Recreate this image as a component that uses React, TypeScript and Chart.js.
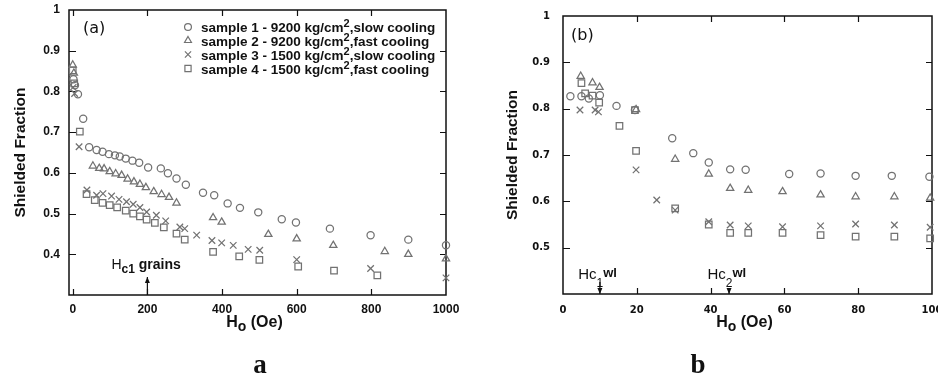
import React, { useEffect, useRef } from "react";
import { Chart, registerables } from "chart.js";
Chart.register(...registerables);

// ---------- Labels ----------
const seriesLabels = [
  "sample 1 - 9200 kg/cm²,slow cooling",
  "sample 2 - 9200 kg/cm²,fast cooling",
  "sample 3 - 1500 kg/cm²,slow cooling",
  "sample 4 - 1500 kg/cm²,fast cooling",
];
const pointStyles = ["circle", "triangle", "crossRot", "rect"];
const pointRadii = [3.6, 4.2, 4.6, 4.6];

// ---------- Tick values ----------
const aXTicks = [0, 200, 400, 600, 800, 1000];
const aYTicks = [0.4, 0.5, 0.6, 0.7, 0.8, 0.9, 1];
const bXTicks = [0, 20, 40, 60, 80, 100];
const bYTicks = [0.5, 0.6, 0.7, 0.8, 0.9, 1];

// ---------- Panel (a) data: H0 (Oe) vs shielded fraction ----------
const a1X = [2, 6, 14, 28, 44, 64, 80, 97, 113, 126, 142, 160, 178, 202, 236, 255, 278, 303, 349, 379, 415, 448, 497, 560, 598, 689, 798, 899, 1000];
const a1Y = [0.83, 0.815, 0.793, 0.733, 0.663, 0.656, 0.652, 0.646, 0.643, 0.64, 0.635, 0.63, 0.625, 0.613, 0.611, 0.599, 0.586, 0.571, 0.551, 0.545, 0.525, 0.514, 0.503, 0.486, 0.478, 0.463, 0.447, 0.436, 0.422];

const a2X = [0, 3, 54, 71, 84, 99, 115, 131, 147, 164, 180, 196, 217, 238, 258, 278, 376, 399, 524, 600, 698, 836, 899, 1000];
const a2Y = [0.865, 0.845, 0.617, 0.611, 0.61, 0.603, 0.598, 0.594, 0.585, 0.578, 0.572, 0.564, 0.554, 0.547, 0.54, 0.526, 0.49, 0.479, 0.449, 0.438, 0.422, 0.407, 0.4, 0.389];

const a3X = [1, 5, 17, 38, 64, 81, 104, 124, 144, 162, 180, 198, 224, 249, 287, 300, 332, 373, 399, 430, 470, 501, 600, 798, 1000];
const a3Y = [0.81, 0.795, 0.664, 0.558, 0.545, 0.549, 0.543, 0.535, 0.529, 0.523, 0.515, 0.504, 0.496, 0.482, 0.467, 0.463, 0.447, 0.434, 0.428, 0.422, 0.412, 0.41, 0.387, 0.365, 0.342];

const a4X = [0, 4, 19, 37, 59, 80, 99, 119, 142, 162, 180, 198, 220, 244, 278, 300, 376, 446, 500, 604, 700, 816];
const a4Y = [0.852, 0.82, 0.701, 0.548, 0.533, 0.526, 0.521, 0.515, 0.507, 0.5, 0.493, 0.485, 0.477, 0.466, 0.451, 0.436, 0.406, 0.395, 0.386, 0.37, 0.36, 0.348];

// ---------- Panel (b) data ----------
const b1X = [2, 5, 7, 10, 14.5, 19.5, 29.6, 35.3, 39.5, 45.3, 49.5, 61.3, 69.8, 79.3, 89.1, 99.3];
const b1Y = [0.827, 0.827, 0.822, 0.829, 0.806, 0.797, 0.736, 0.704, 0.684, 0.669, 0.668, 0.659, 0.66, 0.655, 0.655, 0.653];

const b2X = [4.8, 8, 9.9, 19.8, 30.4, 39.5, 45.3, 50.2, 59.5, 69.8, 79.3, 89.8, 99.5];
const b2Y = [0.87, 0.856, 0.846, 0.798, 0.691, 0.659, 0.628, 0.624, 0.621, 0.614, 0.61, 0.61, 0.607];

const b3X = [4.6, 8.7, 9.6, 19.8, 25.4, 30.4, 39.5, 45.3, 50.2, 59.5, 69.8, 79.3, 89.8, 99.5];
const b3Y = [0.797, 0.797, 0.793, 0.668, 0.603, 0.581, 0.556, 0.549, 0.547, 0.545, 0.547, 0.551, 0.549, 0.544];

const b4X = [5, 6, 8, 9.8, 15.3, 19.5, 19.8, 30.4, 39.5, 45.3, 50.2, 59.5, 69.8, 79.3, 89.8, 99.5];
const b4Y = [0.855, 0.833, 0.828, 0.813, 0.763, 0.797, 0.709, 0.585, 0.55, 0.532, 0.532, 0.532, 0.527, 0.524, 0.524, 0.52];

const MARK = "#727272";
const SANS = "'Liberation Sans', Arial, sans-serif";

function pairs(xs: number[], ys: number[]) {
  return xs.map((x, i) => ({ x, y: ys[i] }));
}

function makeDatasets(series: [number[], number[]][]) {
  return series.map(([xs, ys], i) => ({
    label: seriesLabels[i],
    data: pairs(xs, ys),
    pointStyle: pointStyles[i],
    pointRadius: pointRadii[i],
    pointHoverRadius: pointRadii[i],
    borderColor: MARK,
    backgroundColor: "rgba(0,0,0,0)",
    pointBorderWidth: 1.25,
    showLine: false,
    clip: 8,
  }));
}

// legend marker, same geometry as Chart.js point styles
function legendMarker(ctx: CanvasRenderingContext2D, style: string, r: number, x: number, y: number) {
  ctx.save();
  ctx.strokeStyle = MARK;
  ctx.lineWidth = 1.2;
  ctx.beginPath();
  if (style === "circle") {
    ctx.arc(x, y, r, 0, Math.PI * 2);
  } else if (style === "triangle") {
    for (let k = 0; k < 3; k++) {
      const a = -Math.PI / 2 + (k * 2 * Math.PI) / 3;
      const px = x + Math.cos(a) * r;
      const py = y + Math.sin(a) * r;
      if (k === 0) ctx.moveTo(px, py);
      else ctx.lineTo(px, py);
    }
    ctx.closePath();
  } else if (style === "crossRot") {
    const d = r * Math.SQRT1_2;
    ctx.moveTo(x - d, y - d);
    ctx.lineTo(x + d, y + d);
    ctx.moveTo(x + d, y - d);
    ctx.lineTo(x - d, y + d);
  } else {
    const s = r * Math.SQRT1_2;
    ctx.rect(x - s, y - s, 2 * s, 2 * s);
  }
  ctx.stroke();
  ctx.restore();
}

type Txt = { t: string; font: string; dy?: number };
function drawRun(ctx: CanvasRenderingContext2D, x: number, y: number, parts: Txt[]) {
  let cx = x;
  for (const p of parts) {
    ctx.font = p.font;
    ctx.fillText(p.t, cx, y + (p.dy || 0));
    cx += ctx.measureText(p.t).width;
  }
  return cx;
}
function runWidth(ctx: CanvasRenderingContext2D, parts: Txt[]) {
  let w = 0;
  for (const p of parts) {
    ctx.font = p.font;
    w += ctx.measureText(p.t).width;
  }
  return w;
}

function arrow(ctx: CanvasRenderingContext2D, x: number, yTail: number, yHead: number) {
  ctx.beginPath();
  ctx.moveTo(x, yTail);
  ctx.lineTo(x, yHead);
  ctx.stroke();
  const dir = yHead > yTail ? -1 : 1;
  ctx.beginPath();
  ctx.moveTo(x, yHead);
  ctx.lineTo(x - 2.5, yHead + dir * 6);
  ctx.lineTo(x + 2.5, yHead + dir * 6);
  ctx.closePath();
  ctx.fill();
}

type PanelSpec = {
  panel: "a" | "b";
  xTicks: number[];
  yTicks: number[];
  xMin: number;
  xMax: number;
  yMin: number;
  yMax: number;
  series: [number[], number[]][];
  yAxisWidth: number;
  padding: { left: number; right: number; top: number; bottom: number };
  tickFont: { family: string; size: number; weight: string };
  yTickPad: number;
  xTickPad: number;
  yTitlePad: number;
  tickLen: number;
};

function buildConfig(spec: PanelSpec) {
  const decor = {
    id: "decor" + spec.panel,
    beforeDatasetsDraw(chart: any) {
      const { ctx, chartArea } = chart;
      const { left, right, top, bottom } = chartArea;
      const xs = chart.scales.x;
      const ys = chart.scales.y;
      ctx.save();
      ctx.strokeStyle = "#111";
      ctx.lineWidth = 1.5;
      ctx.strokeRect(left, top, right - left, bottom - top);
      ctx.lineWidth = 1.2;
      const L = spec.tickLen;
      ctx.beginPath();
      spec.xTicks.forEach((v) => {
        const px = Math.round(xs.getPixelForValue(v)) + 0.5;
        if (px <= left + 2 || px >= right - 2) return;
        ctx.moveTo(px, bottom);
        ctx.lineTo(px, bottom - L);
        ctx.moveTo(px, top);
        ctx.lineTo(px, top + L);
      });
      spec.yTicks.forEach((v) => {
        const py = Math.round(ys.getPixelForValue(v)) + 0.5;
        if (py <= top + 2 || py >= bottom - 2) return;
        ctx.moveTo(left, py);
        ctx.lineTo(left + L + 1, py);
        ctx.moveTo(right, py);
        ctx.lineTo(right - L, py);
      });
      ctx.stroke();
      ctx.restore();
    },
    afterDraw(chart: any) {
      const { ctx, chartArea } = chart;
      const { left, right, bottom } = chartArea;
      const xs = chart.scales.x;
      ctx.save();
      ctx.fillStyle = "#111";
      ctx.strokeStyle = "#111";
      ctx.lineWidth = 1.2;
      ctx.textBaseline = "alphabetic";
      ctx.textAlign = "left";
      const cx = (left + right) / 2;

      // x axis title: H_o (Oe)
      const title: Txt[] = [
        { t: "H", font: `bold 16px ${SANS}` },
        { t: "o", font: `bold 14px ${SANS}`, dy: 4 },
        { t: " (Oe)", font: `bold 16px ${SANS}` },
      ];
      const tw = runWidth(ctx, title);
      drawRun(ctx, cx - tw / 2 - 3, 327, title);

      // panel tag
      ctx.font = `16px 'DejaVu Sans', sans-serif`;
      if (spec.panel === "a") ctx.fillText("(a)", 83, 33);
      else ctx.fillText("(b)", 101, 40);

      // big letter below
      ctx.font = `bold 27px 'Liberation Serif', 'Times New Roman', serif`;
      ctx.textAlign = "center";
      ctx.fillText(spec.panel, spec.panel === "a" ? 260 : 228, 373);
      ctx.textAlign = "left";

      if (spec.panel === "a") {
        // legend (superscript 2 drawn raised)
        const ds = chart.data.datasets;
        const rows = [27, 40.5, 54.5, 68.5];
        const LF = `bold 13.5px ${SANS}`;
        ds.forEach((d: any, i: number) => {
          legendMarker(ctx, d.pointStyle, d.pointRadius * 0.95, 188, rows[i]);
          ctx.fillStyle = "#111";
          const [pre, post] = String(d.label).split("²");
          drawRun(ctx, 201, rows[i] + 5, [
            { t: pre, font: LF },
            { t: "2", font: `bold 11px ${SANS}`, dy: -5 },
            { t: post, font: LF },
          ]);
        });
        // H_c1 grains annotation
        const ax = xs.getPixelForValue(200);
        drawRun(ctx, ax - 36, 269, [
          { t: "H", font: `14px ${SANS}` },
          { t: "c1", font: `bold 12px ${SANS}`, dy: 4 },
          { t: " grains", font: `bold 14px ${SANS}` },
        ]);
        arrow(ctx, ax, bottom, 277);
      } else {
        const x1 = xs.getPixelForValue(10);
        const x2 = xs.getPixelForValue(45);
        const mk = (n: string): Txt[] => [
          { t: "Hc", font: `15px ${SANS}` },
          { t: n, font: `12px ${SANS}`, dy: 8 },
          { t: "wl", font: `bold 13px ${SANS}`, dy: -2 },
        ];
        ctx.font = `15px ${SANS}`;
        const hcW = ctx.measureText("Hc").width;
        ctx.font = `12px ${SANS}`;
        const nW = ctx.measureText("1").width;
        drawRun(ctx, x1 - hcW - nW / 2, 279, mk("1"));
        drawRun(ctx, x2 - hcW - nW / 2, 279, mk("2"));
        arrow(ctx, x1, 282, bottom);
        arrow(ctx, x2, 289, bottom);
      }
      ctx.restore();
    },
  };

  return {
    type: "scatter" as const,
    data: { datasets: makeDatasets(spec.series) },
    plugins: [decor],
    options: {
      animation: false,
      responsive: false,
      maintainAspectRatio: false,
      events: [],
      layout: { padding: spec.padding },
      plugins: { legend: { display: false }, tooltip: { enabled: false }, title: { display: false } },
      scales: {
        x: {
          type: "linear",
          min: spec.xMin,
          max: spec.xMax,
          grid: { display: false, drawTicks: false, tickLength: 0 },
          border: { display: false },
          afterBuildTicks: (s: any) => {
            s.ticks = spec.xTicks.map((v) => ({ value: v }));
          },
          afterFit: (s: any) => {
            s.height = 30;
            s.paddingLeft = 0;
            s.paddingRight = 0;
          },
          ticks: {
            autoSkip: false,
            maxRotation: 0,
            minRotation: 0,
            padding: spec.xTickPad,
            color: "#111",
            font: spec.tickFont,
            callback: (v: any) => String(v),
          },
        },
        y: {
          type: "linear",
          min: spec.yMin,
          max: spec.yMax,
          grid: { display: false, drawTicks: false, tickLength: 0 },
          border: { display: false },
          afterBuildTicks: (s: any) => {
            s.ticks = spec.yTicks.map((v) => ({ value: v }));
          },
          afterFit: (s: any) => {
            s.width = spec.yAxisWidth;
            s.paddingTop = 0;
            s.paddingBottom = 0;
          },
          ticks: {
            autoSkip: false,
            padding: spec.yTickPad,
            color: "#111",
            font: spec.tickFont,
            callback: (v: any) => String(Math.round(v * 10) / 10),
          },
          title: {
            display: true,
            text: "Shielded Fraction",
            color: "#111",
            font: { family: SANS, size: 15.5, weight: "bold" },
            padding: { top: spec.yTitlePad, bottom: 0 },
          },
        },
      },
    },
  };
}

function Panel({ spec, left, width }: { spec: PanelSpec; left: number; width: number }) {
  const ref = useRef<HTMLCanvasElement | null>(null);
  useEffect(() => {
    if (!ref.current) return;
    const chart = new Chart(ref.current, buildConfig(spec) as any);
    return () => chart.destroy();
  }, []);
  return (
    <canvas
      ref={ref}
      width={width}
      height={379}
      style={{ position: "absolute", left, top: 0, width, height: 379 }}
    />
  );
}

const specA: PanelSpec = {
  panel: "a",
  xTicks: aXTicks,
  yTicks: aYTicks,
  xMin: -10,
  xMax: 1000,
  yMin: 0.3,
  yMax: 1,
  series: [
    [a1X, a1Y],
    [a2X, a2Y],
    [a3X, a3Y],
    [a4X, a4Y],
  ],
  yAxisWidth: 69,
  padding: { left: 0, right: 24, top: 10, bottom: 54 },
  tickFont: { family: SANS, size: 12, weight: "bold" },
  yTickPad: 9,
  xTickPad: 7,
  yTitlePad: 11,
  tickLen: 6,
};

const specB: PanelSpec = {
  panel: "b",
  xTicks: bXTicks,
  yTicks: bYTicks,
  xMin: 0,
  xMax: 100,
  yMin: 0.4,
  yMax: 1,
  series: [
    [b1X, b1Y],
    [b2X, b2Y],
    [b3X, b3Y],
    [b4X, b4Y],
  ],
  yAxisWidth: 93,
  padding: { left: 0, right: 6, top: 16, bottom: 55 },
  tickFont: { family: "'DejaVu Sans', sans-serif", size: 10, weight: "bold" },
  yTickPad: 13,
  xTickPad: 10,
  yTitlePad: 33,
  tickLen: 6,
};

export default function App() {
  return (
    <div style={{ position: "fixed", left: 0, top: 0, width: 938, height: 379, background: "#fff", overflow: "hidden" }}>
      <Panel spec={specA} left={0} width={470} />
      <Panel spec={specB} left={470} width={468} />
    </div>
  );
}
